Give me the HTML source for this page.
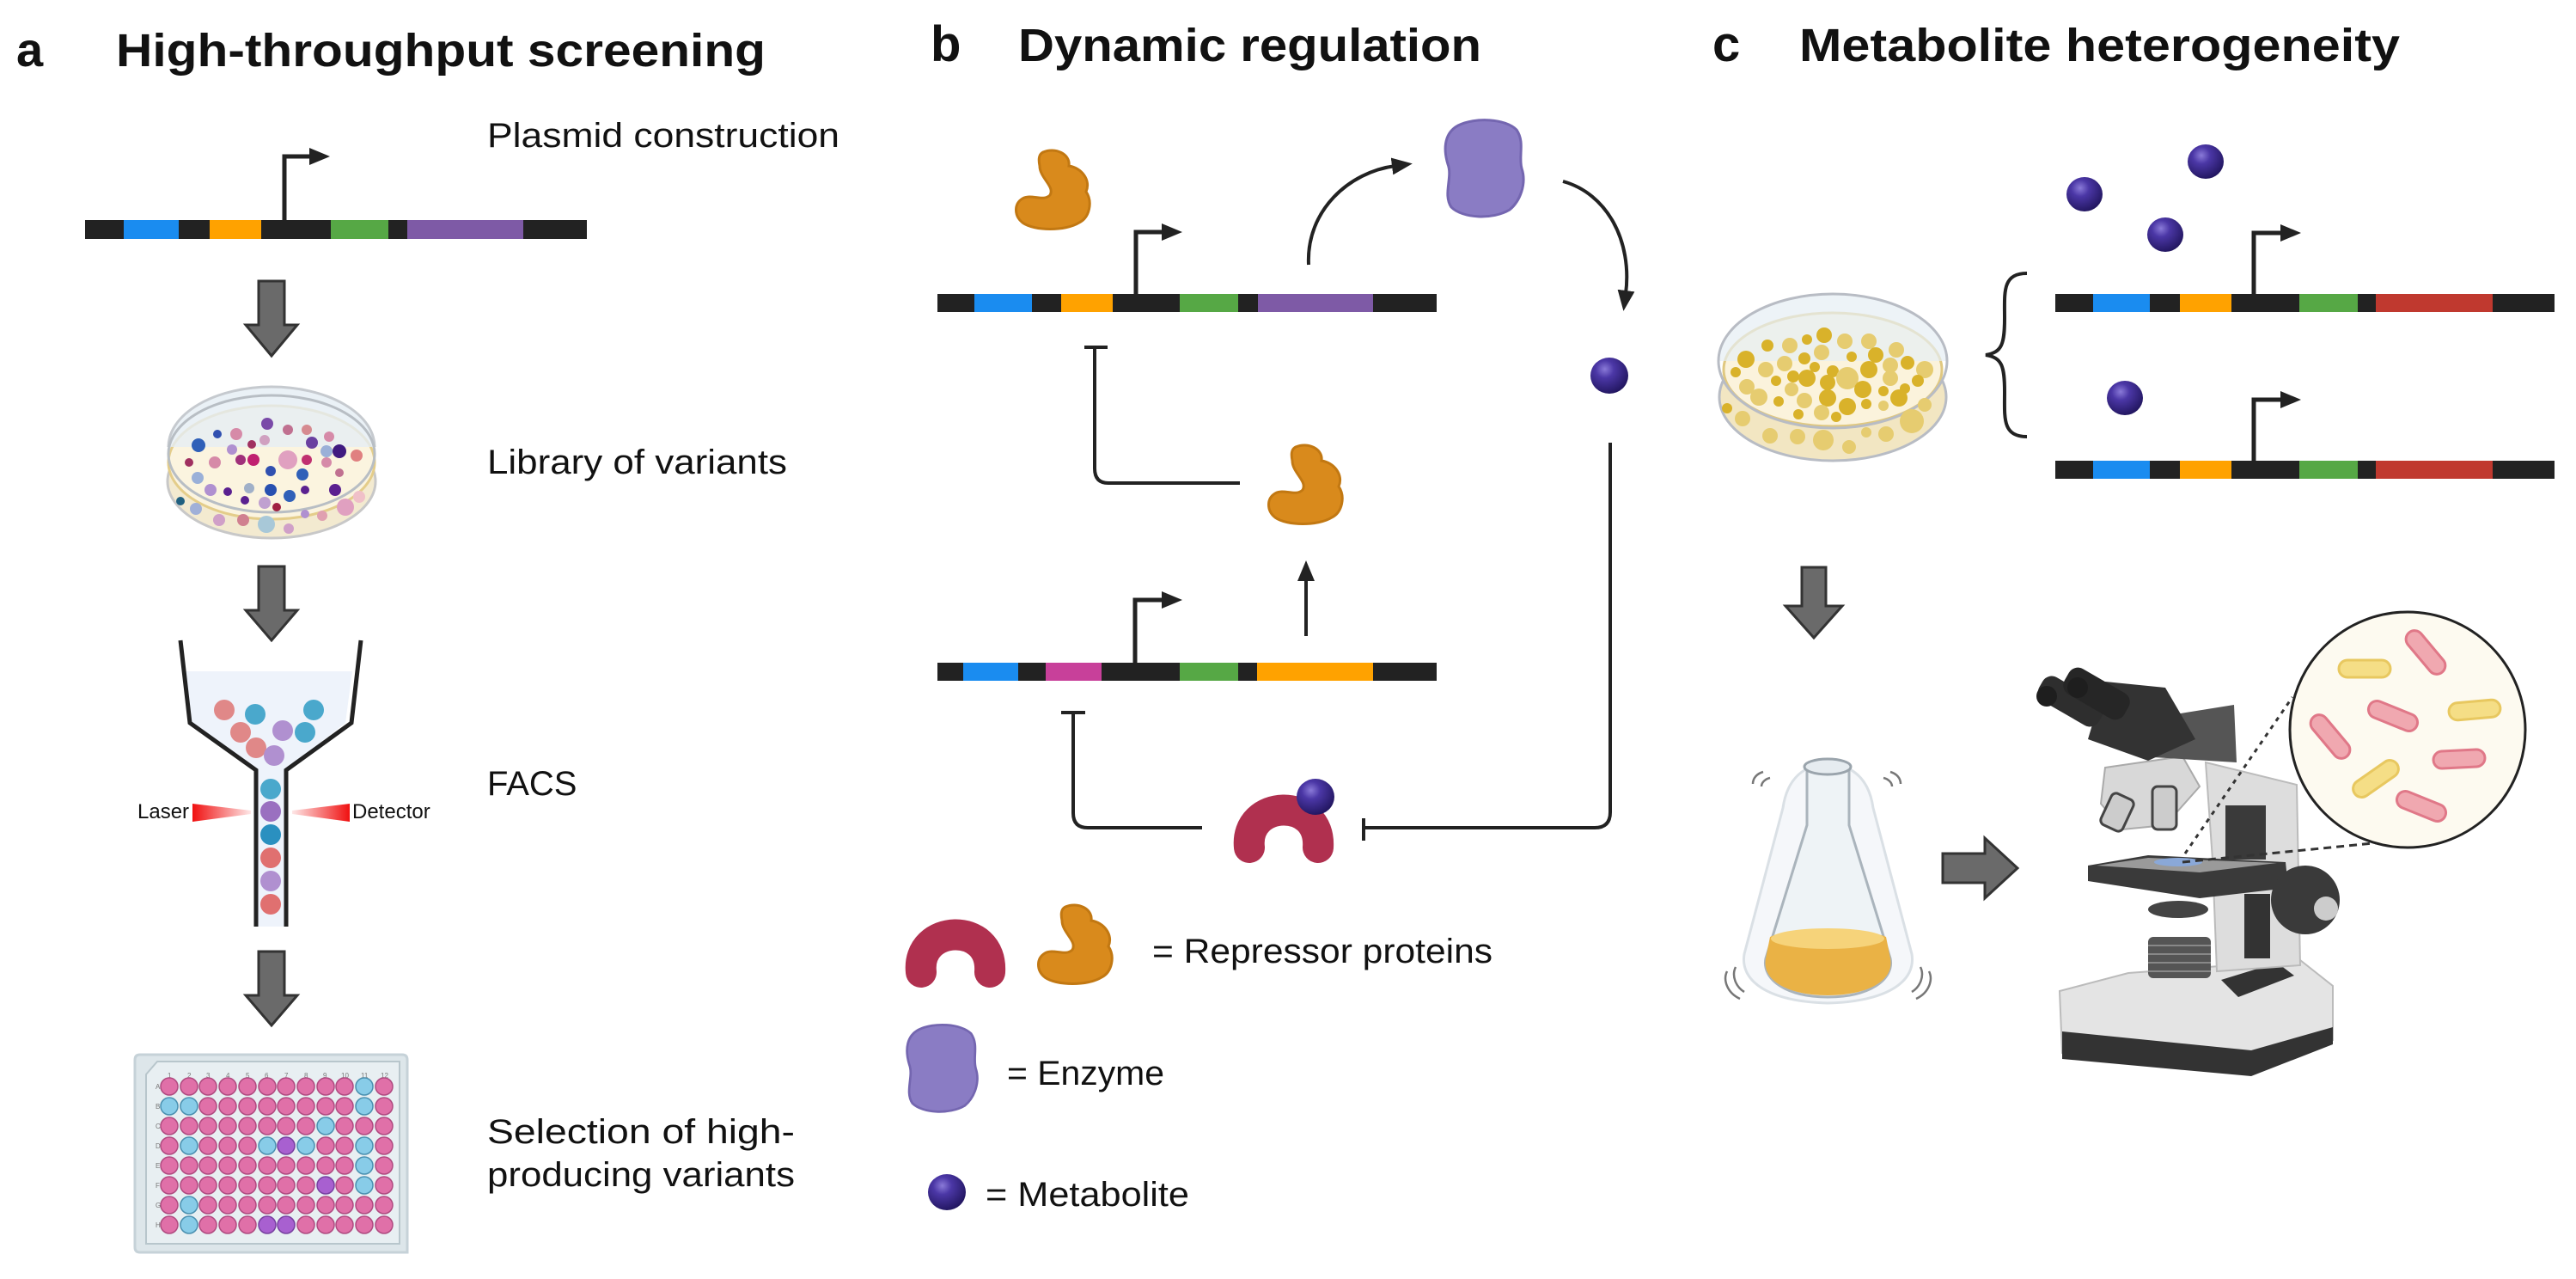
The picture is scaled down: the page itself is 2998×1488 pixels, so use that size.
<!DOCTYPE html>
<html><head><meta charset="utf-8"><style>html,body{margin:0;padding:0;background:#fff}svg{display:block}</style></head>
<body>
<svg width="2998" height="1488" viewBox="0 0 2998 1488" xmlns="http://www.w3.org/2000/svg" font-family="Liberation Sans, sans-serif">
<defs>
<radialGradient id="ball" cx="0.38" cy="0.32" r="0.7"><stop offset="0" stop-color="#8a7ad8"/><stop offset="0.35" stop-color="#4b37a6"/><stop offset="1" stop-color="#221660"/></radialGradient>
<marker id="ah" markerWidth="24" markerHeight="20" refX="4" refY="10" orient="auto" markerUnits="userSpaceOnUse" viewBox="0 0 24 20"><path d="M0,0 L24,10 L0,20 Z" fill="#222"/></marker>
<g id="orange"><path d="M-12,-46 C2,-52 20,-44 18,-30 C32,-28 44,-14 38,0 C46,12 42,30 30,36 C14,46 -22,46 -36,36 C-46,28 -46,14 -36,8 C-26,2 -12,12 -4,4 C2,-6 -16,-16 -16,-30 C-18,-40 -16,-44 -12,-46 Z" fill="#d98a1c" stroke="#c27812" stroke-width="3"/></g>
<g id="enz"><path d="M-30,-50 C-10,-60 25,-58 38,-45 C48,-30 40,-15 44,0 C50,18 42,38 30,48 C10,60 -25,58 -38,45 C-48,30 -36,10 -42,-5 C-48,-25 -45,-42 -30,-50 Z" fill="#8a7cc4" stroke="#7466b0" stroke-width="3"/></g>
<g id="red"><path d="M-40,28 C-46,-28 44,-32 40,28" fill="none" stroke="#b0304f" stroke-width="36" stroke-linecap="round"/></g>
<linearGradient id="lz" x1="0" x2="1"><stop offset="0" stop-color="#f01010"/><stop offset="1" stop-color="#f01010" stop-opacity="0.1"/></linearGradient><linearGradient id="lz2" x1="1" x2="0"><stop offset="0" stop-color="#f01010"/><stop offset="1" stop-color="#f01010" stop-opacity="0.1"/></linearGradient>
</defs>

<!-- Titles -->
<text x="19" y="77" font-size="56" font-weight="bold" fill="#111">a</text>
<text x="135" y="77" font-size="54" font-weight="bold" fill="#111" textLength="756" lengthAdjust="spacingAndGlyphs">High-throughput screening</text>
<text x="1083" y="71" font-size="58" font-weight="bold" fill="#111">b</text>
<text x="1185" y="71" font-size="54" font-weight="bold" fill="#111" textLength="539" lengthAdjust="spacingAndGlyphs">Dynamic regulation</text>
<text x="1993" y="71" font-size="58" font-weight="bold" fill="#111">c</text>
<text x="2094" y="71" font-size="54" font-weight="bold" fill="#111" textLength="699" lengthAdjust="spacingAndGlyphs">Metabolite heterogeneity</text>

<!-- Panel a -->
<text x="567" y="171" font-size="40" fill="#111" textLength="410" lengthAdjust="spacingAndGlyphs">Plasmid construction</text>
<g>
<rect x="99" y="256" width="584" height="22" fill="#222"/>
<rect x="144" y="256" width="64" height="22" fill="#1a8cf0"/>
<rect x="244" y="256" width="60" height="22" fill="#ffa200"/>
<rect x="385" y="256" width="67" height="22" fill="#56a845"/>
<rect x="474" y="256" width="135" height="22" fill="#7e5aa6"/>
<path d="M331,256 V182 H364" fill="none" stroke="#222" stroke-width="5" marker-end="url(#ah)"/>
</g>
<g fill="#6a6a6a" stroke="#333" stroke-width="3">
<path d="M301,327 H331 V378 H346 L316,414 L286,378 H301 Z"/>
<path d="M301,659 H331 V710 H346 L316,745 L286,710 H301 Z"/>
<path d="M301,1107 H331 V1158 H346 L316,1193 L286,1158 H301 Z"/>
</g>
<!-- petri a -->
<ellipse cx="316" cy="560" rx="121" ry="66" fill="#f3ead0" stroke="#c8c8c8" stroke-width="3"/>
<ellipse cx="316" cy="538" rx="120" ry="66" fill="#fbf4df" stroke="#e4cd8a" stroke-width="3"/>
<path d="M196,520 A120,70 0 0 1 436,520" fill="#e6eef5" stroke="#b8bec4" stroke-width="3" opacity="0.8"/>
<ellipse cx="316" cy="528" rx="120" ry="68" fill="none" stroke="#b8bec4" stroke-width="3"/>
<g>
<circle cx="311" cy="493" r="7" fill="#7a4aa8"/><circle cx="275" cy="505" r="7" fill="#d68aa8"/><circle cx="253" cy="505" r="5" fill="#3050b0"/><circle cx="335" cy="500" r="6" fill="#c07090"/><circle cx="357" cy="500" r="6" fill="#d68a90"/><circle cx="383" cy="508" r="6" fill="#d68aa8"/><circle cx="293" cy="517" r="5" fill="#a03060"/><circle cx="308" cy="512" r="6" fill="#d0a0c0"/><circle cx="231" cy="518" r="8" fill="#3060b8"/><circle cx="270" cy="523" r="6" fill="#b090d0"/><circle cx="363" cy="515" r="7" fill="#6a40a0"/><circle cx="395" cy="525" r="8" fill="#401a80"/><circle cx="380" cy="525" r="7" fill="#9ab0d8"/><circle cx="220" cy="538" r="5" fill="#a03060"/><circle cx="250" cy="538" r="7" fill="#d68aa8"/><circle cx="280" cy="535" r="6" fill="#a0307a"/><circle cx="295" cy="535" r="7" fill="#c02070"/><circle cx="335" cy="535" r="11" fill="#e0a0c0"/><circle cx="357" cy="535" r="6" fill="#c03070"/><circle cx="380" cy="538" r="6" fill="#d68aa8"/><circle cx="415" cy="530" r="7" fill="#e08080"/><circle cx="315" cy="548" r="6" fill="#3050b0"/><circle cx="352" cy="552" r="7" fill="#3060b8"/><circle cx="395" cy="550" r="5" fill="#c07090"/><circle cx="230" cy="556" r="7" fill="#9ab0d8"/><circle cx="245" cy="570" r="7" fill="#b090d0"/><circle cx="265" cy="572" r="5" fill="#5a2090"/><circle cx="290" cy="568" r="6" fill="#a0b0c8"/><circle cx="315" cy="570" r="7" fill="#2850b0"/><circle cx="337" cy="577" r="7" fill="#3060b8"/><circle cx="355" cy="570" r="5" fill="#5a2090"/><circle cx="390" cy="570" r="7" fill="#5a2090"/><circle cx="418" cy="578" r="7" fill="#f0c0c8"/><circle cx="210" cy="583" r="5" fill="#206080"/><circle cx="285" cy="582" r="5" fill="#5a2090"/><circle cx="308" cy="585" r="7" fill="#c0a0d0"/><circle cx="322" cy="590" r="5" fill="#a02040"/><circle cx="228" cy="592" r="7" fill="#a0b0d8"/><circle cx="402" cy="590" r="10" fill="#e0a0c0"/><circle cx="255" cy="605" r="7" fill="#d0a0c8"/><circle cx="283" cy="605" r="7" fill="#d08090"/><circle cx="310" cy="610" r="10" fill="#a8c8d8"/><circle cx="336" cy="615" r="6" fill="#d0a0c8"/><circle cx="355" cy="598" r="5" fill="#b090d0"/><circle cx="375" cy="600" r="6" fill="#e0a0b0"/>
</g>
<text x="567" y="551" font-size="40" fill="#111" textLength="349" lengthAdjust="spacingAndGlyphs">Library of variants</text>

<!-- FACS -->
<path d="M212,781 H410 L402,841 L332,896 V1078 H299 V896 L222,841 Z" fill="#eef3fb"/>
<path d="M210,745 L221,841 L298,896 V1078 M420,745 L409,841 L333,896 V1078" fill="none" stroke="#222" stroke-width="5"/>
<g>
<circle cx="261" cy="826" r="12" fill="#e08888"/><circle cx="297" cy="831" r="12" fill="#4aa8cc"/><circle cx="365" cy="826" r="12" fill="#4aa8cc"/><circle cx="280" cy="852" r="12" fill="#e08888"/><circle cx="329" cy="850" r="12" fill="#b090d0"/><circle cx="355" cy="852" r="12" fill="#4aa8cc"/><circle cx="298" cy="870" r="12" fill="#e08888"/><circle cx="319" cy="879" r="12" fill="#b090d0"/>
<circle cx="315" cy="918" r="12" fill="#4aa8cc"/><circle cx="315" cy="944" r="12" fill="#9a70c0"/><circle cx="315" cy="971" r="12" fill="#2a90c0"/><circle cx="315" cy="998" r="12" fill="#e07070"/><circle cx="315" cy="1025" r="12" fill="#b090d0"/><circle cx="315" cy="1052" r="12" fill="#e07070"/>
</g>
<path d="M224,935 L292,943 L292,947 L224,956 Z" fill="url(#lz)"/>
<path d="M407,935 L340,943 L340,947 L407,956 Z" fill="url(#lz2)"/>
<text x="160" y="952" font-size="24" fill="#111">Laser</text>
<text x="410" y="952" font-size="24" fill="#111">Detector</text>
<text x="567" y="925" font-size="40" fill="#111">FACS</text>

<!-- 96 well plate -->
<path d="M157,1233 Q157,1227 163,1227 H468 Q474,1227 474,1233 V1457 H163 Q157,1457 157,1451 Z" fill="#dde6ea" stroke="#c6d2d8" stroke-width="3"/>
<path d="M183,1235 H465 V1447 H170 V1250 Z" fill="#e8eff2" stroke="#b8c6cc" stroke-width="2"/>
<g font-size="8" fill="#777">
<text x="195" y="1254">1</text><text x="218" y="1254">2</text><text x="240" y="1254">3</text><text x="263" y="1254">4</text><text x="286" y="1254">5</text><text x="308" y="1254">6</text><text x="331" y="1254">7</text><text x="354" y="1254">8</text><text x="376" y="1254">9</text><text x="397" y="1254">10</text><text x="420" y="1254">11</text><text x="443" y="1254">12</text>
</g>
<text x="567" y="1330" font-size="40" fill="#111" textLength="358" lengthAdjust="spacingAndGlyphs">Selection of high-</text>
<text x="567" y="1380" font-size="40" fill="#111" textLength="358" lengthAdjust="spacingAndGlyphs">producing variants</text>

<!-- Panel b -->
<rect x="1091" y="342" width="581" height="21" fill="#222"/>
<rect x="1134" y="342" width="67" height="21" fill="#1a8cf0"/>
<rect x="1235" y="342" width="60" height="21" fill="#ffa200"/>
<rect x="1373" y="342" width="68" height="21" fill="#56a845"/>
<rect x="1464" y="342" width="134" height="21" fill="#7e5aa6"/>
<path d="M1322,342 V270 H1356" fill="none" stroke="#222" stroke-width="5" marker-end="url(#ah)"/>
<rect x="1091" y="771" width="581" height="21" fill="#222"/>
<rect x="1121" y="771" width="64" height="21" fill="#1a8cf0"/>
<rect x="1217" y="771" width="65" height="21" fill="#c8409a"/>
<rect x="1373" y="771" width="68" height="21" fill="#56a845"/>
<rect x="1463" y="771" width="135" height="21" fill="#ffa200"/>
<path d="M1321,771 V698 H1356" fill="none" stroke="#222" stroke-width="5" marker-end="url(#ah)"/>

<use href="#orange" x="1226" y="223"/>
<use href="#enz" x="1727" y="196"/>
<path d="M1523,308 C1520,245 1570,200 1624,193" fill="none" stroke="#222" stroke-width="4" marker-end="url(#ah)"/>
<path d="M1819,211 C1870,225 1900,280 1892,342" fill="none" stroke="#222" stroke-width="4" marker-end="url(#ah)"/>
<ellipse cx="1873" cy="437" rx="22" ry="21" fill="url(#ball)"/>
<path d="M1262,404 H1289 M1274,404 V545 Q1274,562 1290,562 H1443" fill="none" stroke="#222" stroke-width="4"/>
<use href="#orange" x="1520" y="566"/>
<path d="M1520,740 V672" fill="none" stroke="#222" stroke-width="4" marker-end="url(#ah)"/>
<path d="M1235,829 H1263 M1249,829 V946 Q1249,963 1266,963 H1399" fill="none" stroke="#222" stroke-width="4"/>
<use href="#red" x="1494" y="958"/>
<ellipse cx="1531" cy="927" rx="22" ry="21" fill="url(#ball)"/>
<path d="M1874,515 V945 Q1874,963 1856,963 H1587 M1587,952 V978" fill="none" stroke="#222" stroke-width="4"/>

<use href="#red" x="1112" y="1103"/>
<use href="#orange" x="1252" y="1101"/>
<text x="1341" y="1120" font-size="40" fill="#111" textLength="396" lengthAdjust="spacingAndGlyphs">= Repressor proteins</text>
<g transform="translate(1096 1243) scale(0.9)"><use href="#enz"/></g>
<text x="1172" y="1262" font-size="40" fill="#111" textLength="183" lengthAdjust="spacingAndGlyphs">= Enzyme</text>
<ellipse cx="1102" cy="1387" rx="22" ry="21" fill="url(#ball)"/>
<text x="1147" y="1403" font-size="40" fill="#111" textLength="237" lengthAdjust="spacingAndGlyphs">= Metabolite</text>

<!-- Panel c -->
<ellipse cx="2426" cy="226" rx="21" ry="20" fill="url(#ball)"/>
<ellipse cx="2567" cy="188" rx="21" ry="20" fill="url(#ball)"/>
<ellipse cx="2520" cy="273" rx="21" ry="20" fill="url(#ball)"/>
<ellipse cx="2473" cy="463" rx="21" ry="20" fill="url(#ball)"/>
<g>
<rect x="2392" y="342" width="581" height="21" fill="#222"/>
<rect x="2436" y="342" width="66" height="21" fill="#1a8cf0"/>
<rect x="2537" y="342" width="60" height="21" fill="#ffa200"/>
<rect x="2676" y="342" width="68" height="21" fill="#56a845"/>
<rect x="2765" y="342" width="136" height="21" fill="#c0392f"/>
<path d="M2623,342 V271 H2658" fill="none" stroke="#222" stroke-width="5" marker-end="url(#ah)"/>
</g>
<g>
<rect x="2392" y="536" width="581" height="21" fill="#222"/>
<rect x="2436" y="536" width="66" height="21" fill="#1a8cf0"/>
<rect x="2537" y="536" width="60" height="21" fill="#ffa200"/>
<rect x="2676" y="536" width="68" height="21" fill="#56a845"/>
<rect x="2765" y="536" width="136" height="21" fill="#c0392f"/>
<path d="M2623,536 V465 H2658" fill="none" stroke="#222" stroke-width="5" marker-end="url(#ah)"/>
</g>
<path d="M2359,318 C2330,318 2333,340 2333,370 C2333,400 2330,410 2311,413 C2330,416 2333,426 2333,456 C2333,486 2330,508 2359,508" fill="none" stroke="#222" stroke-width="4"/>

<!-- petri c -->
<ellipse cx="2133" cy="462" rx="132" ry="74" fill="#f2e6c2" stroke="#b8bcc4" stroke-width="3"/>
<ellipse cx="2133" cy="430" rx="127" ry="66" fill="#fbf3dc" stroke="#e0c880" stroke-width="3"/>
<path d="M2001,420 A133,78 0 0 1 2267,420" fill="#e6eef4" opacity="0.7"/>
<ellipse cx="2133" cy="420" rx="133" ry="78" fill="none" stroke="#b8bcc4" stroke-width="3"/>
<g fill="#d9b22a">
<circle cx="2123" cy="390" r="9"/><circle cx="2057" cy="402" r="7"/><circle cx="2103" cy="395" r="6"/><circle cx="2083" cy="402" r="9" fill="#e6cc70"/><circle cx="2147" cy="397" r="9" fill="#e6cc70"/><circle cx="2175" cy="397" r="9" fill="#e6cc70"/><circle cx="2032" cy="418" r="10"/><circle cx="2100" cy="417" r="7"/><circle cx="2120" cy="410" r="9" fill="#e6cc70"/><circle cx="2155" cy="415" r="6"/><circle cx="2183" cy="413" r="9"/><circle cx="2207" cy="407" r="9" fill="#e6cc70"/><circle cx="2020" cy="433" r="6"/><circle cx="2055" cy="430" r="9" fill="#e6cc70"/><circle cx="2077" cy="423" r="9" fill="#e6cc70"/><circle cx="2112" cy="427" r="6"/><circle cx="2133" cy="432" r="7"/><circle cx="2087" cy="438" r="7"/><circle cx="2103" cy="440" r="10"/><circle cx="2150" cy="440" r="13" fill="#e6cc70"/><circle cx="2175" cy="430" r="10"/><circle cx="2200" cy="425" r="9" fill="#e6cc70"/><circle cx="2220" cy="422" r="8"/><circle cx="2240" cy="430" r="10" fill="#e6cc70"/><circle cx="2067" cy="443" r="6"/><circle cx="2033" cy="450" r="9" fill="#e6cc70"/><circle cx="2127" cy="445" r="9"/><circle cx="2200" cy="440" r="9" fill="#e6cc70"/><circle cx="2232" cy="443" r="7"/><circle cx="2168" cy="453" r="10"/><circle cx="2085" cy="453" r="8" fill="#e6cc70"/><circle cx="2192" cy="455" r="6"/><circle cx="2217" cy="452" r="6"/><circle cx="2047" cy="462" r="10" fill="#e6cc70"/><circle cx="2070" cy="467" r="6"/><circle cx="2100" cy="466" r="9" fill="#e6cc70"/><circle cx="2127" cy="463" r="10"/><circle cx="2210" cy="463" r="10"/><circle cx="2010" cy="475" r="6"/><circle cx="2150" cy="473" r="10"/><circle cx="2172" cy="470" r="6"/><circle cx="2192" cy="472" r="6" fill="#e6cc70"/><circle cx="2240" cy="471" r="8" fill="#e6cc70"/><circle cx="2093" cy="482" r="6"/><circle cx="2120" cy="480" r="9" fill="#e6cc70"/><circle cx="2137" cy="485" r="6"/><circle cx="2028" cy="487" r="9" fill="#e6cc70"/><circle cx="2225" cy="490" r="14" fill="#e6cc70"/><circle cx="2060" cy="507" r="9" fill="#e6cc70"/><circle cx="2092" cy="508" r="9" fill="#e6cc70"/><circle cx="2122" cy="512" r="12" fill="#e6cc70"/><circle cx="2152" cy="520" r="8" fill="#e6cc70"/><circle cx="2172" cy="503" r="6" fill="#e6cc70"/><circle cx="2195" cy="505" r="9" fill="#e6cc70"/>
</g>
<path d="M2097,660 H2125 V705 H2144 L2111,742 L2078,705 H2097 Z" fill="#6a6a6a" stroke="#333" stroke-width="3"/>
<path d="M2261,993 H2310 V975 L2348,1010 L2310,1045 V1027 H2261 Z" fill="#6a6a6a" stroke="#333" stroke-width="3"/>

<!-- flask -->
<g>
<path d="M2075,940 C2080,905 2100,890 2127,888 C2155,890 2175,905 2180,940 L2225,1110 C2230,1140 2200,1165 2127,1167 C2055,1165 2025,1140 2030,1110 Z" fill="#f4f7fa" stroke="#d6dde3" stroke-width="3" opacity="0.9"/>
<path d="M2103,892 V960 L2055,1115 C2050,1140 2080,1160 2127,1160 C2175,1160 2205,1140 2200,1115 L2152,960 V892" fill="#eef3f6" stroke="#aab4bc" stroke-width="3"/>
<path d="M2060,1090 C2080,1080 2175,1080 2195,1090 L2200,1115 C2205,1140 2175,1158 2127,1158 C2080,1158 2050,1140 2055,1115 Z" fill="#eab245"/>
<ellipse cx="2127" cy="1092" rx="66" ry="12" fill="#f6d37a"/>
<ellipse cx="2127" cy="892" rx="27" ry="9" fill="#e6ecf0" stroke="#9aa4ac" stroke-width="3"/>
<g fill="none" stroke="#777" stroke-width="2.5">
<path d="M2052,898 C2045,900 2040,905 2040,912"/><path d="M2060,905 C2055,906 2050,910 2050,915"/>
<path d="M2200,898 C2207,900 2212,905 2212,912"/><path d="M2192,905 C2197,906 2202,910 2202,915"/>
<path d="M2010,1130 C2005,1140 2010,1155 2025,1162"/><path d="M2020,1125 C2015,1135 2020,1148 2030,1154"/>
<path d="M2245,1130 C2250,1140 2245,1155 2230,1162"/><path d="M2235,1125 C2240,1135 2235,1148 2225,1154"/>
</g>
</g>

<!-- microscope -->
<g>
<path d="M2397,1153 L2477,1132 L2677,1117 L2715,1147 L2715,1210 L2620,1245 L2400,1225 Z" fill="#e4e4e4" stroke="#bbb" stroke-width="2"/>
<path d="M2400,1200 L2620,1222 L2715,1195 L2715,1215 L2620,1252 L2400,1232 Z" fill="#333"/>
<path d="M2585,1140 L2650,1120 L2670,1135 L2605,1160 Z" fill="#333"/>
<path d="M2567,887 L2673,913 L2677,1123 L2580,1130 L2575,1000 Z" fill="#ddd" stroke="#bbb" stroke-width="2"/>
<rect x="2590" y="937" width="47" height="63" fill="#3a3a3a"/>
<path d="M2430,1007 L2500,995 L2660,1003 L2663,1033 L2560,1045 L2430,1025 Z" fill="#3a3a3a"/>
<path d="M2440,1007 L2500,998 L2650,1004 L2560,1015 Z" fill="#9a9a9a"/>
<ellipse cx="2535" cy="1003" rx="28" ry="5" fill="#8aa8d8"/>
<ellipse cx="2535" cy="1058" rx="35" ry="10" fill="#444"/>
<rect x="2500" y="1090" width="73" height="48" rx="6" fill="#555"/>
<g stroke="#888" stroke-width="2"><line x1="2500" y1="1100" x2="2573" y2="1100"/><line x1="2500" y1="1110" x2="2573" y2="1110"/><line x1="2500" y1="1120" x2="2573" y2="1120"/><line x1="2500" y1="1130" x2="2573" y2="1130"/></g>
<rect x="2612" y="1040" width="30" height="75" fill="#333"/>
<circle cx="2683" cy="1047" r="40" fill="#3a3a3a"/>
<circle cx="2707" cy="1057" r="14" fill="#ccc"/>
<path d="M2450,893 L2540,880 L2560,915 L2520,960 L2470,965 L2445,935 Z" fill="#d8d8d8" stroke="#aaa" stroke-width="2"/>
<rect x="2450" y="925" width="28" height="40" rx="6" fill="#ccc" stroke="#444" stroke-width="3" transform="rotate(25 2464 945)"/>
<rect x="2505" y="915" width="28" height="50" rx="6" fill="#ccc" stroke="#444" stroke-width="3"/>
<path d="M2475,840 L2600,820 L2603,887 L2490,880 Z" fill="#555"/>
<path d="M2450,793 L2520,800 L2555,860 L2500,885 L2430,860 Z" fill="#333"/>
<rect x="2370" y="800" width="80" height="32" rx="12" fill="#2e2e2e" transform="rotate(30 2410 816)"/>
<rect x="2400" y="790" width="80" height="34" rx="12" fill="#262626" transform="rotate(30 2440 807)"/>
<circle cx="2382" cy="810" r="12" fill="#1e1e1e"/><circle cx="2418" cy="800" r="12" fill="#1e1e1e"/>
<path d="M2543,993 L2668,811" stroke="#333" stroke-width="3" stroke-dasharray="5,6"/>
<path d="M2540,1003 L2772,980" stroke="#333" stroke-width="3" stroke-dasharray="9,6"/>
</g>
<circle cx="2802" cy="849" r="137" fill="#fdfaf0" stroke="#222" stroke-width="3"/>
<g stroke-width="3">
<rect x="2722" y="768" width="60" height="20" rx="10" fill="#f5de86" stroke="#e8c860"/>
<rect x="2793" y="749" width="60" height="20" rx="10" fill="#f0a8b0" stroke="#e07888" transform="rotate(50 2823 759)"/>
<rect x="2850" y="816" width="60" height="20" rx="10" fill="#f5de86" stroke="#e8c860" transform="rotate(-5 2880 826)"/>
<rect x="2755" y="823" width="60" height="20" rx="10" fill="#f0a8b0" stroke="#e07888" transform="rotate(22 2785 833)"/>
<rect x="2682" y="847" width="60" height="20" rx="10" fill="#f0a8b0" stroke="#e07888" transform="rotate(50 2712 857)"/>
<rect x="2832" y="873" width="60" height="20" rx="10" fill="#f0a8b0" stroke="#e07888" transform="rotate(-3 2862 883)"/>
<rect x="2735" y="896" width="60" height="20" rx="10" fill="#f5de86" stroke="#e8c860" transform="rotate(-35 2765 906)"/>
<rect x="2788" y="928" width="60" height="20" rx="10" fill="#f0a8b0" stroke="#e07888" transform="rotate(22 2818 938)"/>
</g>

<!-- wells -->
<g stroke="#b04a80" stroke-width="1.5">
<g fill="#e070a8">
<circle cx="197" cy="1264" r="10"/><circle cx="220" cy="1264" r="10"/><circle cx="242" cy="1264" r="10"/><circle cx="265" cy="1264" r="10"/><circle cx="288" cy="1264" r="10"/><circle cx="311" cy="1264" r="10"/><circle cx="333" cy="1264" r="10"/><circle cx="356" cy="1264" r="10"/><circle cx="379" cy="1264" r="10"/><circle cx="401" cy="1264" r="10"/><circle cx="447" cy="1264" r="10"/>
<circle cx="242" cy="1287" r="10"/><circle cx="265" cy="1287" r="10"/><circle cx="288" cy="1287" r="10"/><circle cx="311" cy="1287" r="10"/><circle cx="333" cy="1287" r="10"/><circle cx="356" cy="1287" r="10"/><circle cx="379" cy="1287" r="10"/><circle cx="401" cy="1287" r="10"/><circle cx="447" cy="1287" r="10"/>
<circle cx="197" cy="1310" r="10"/><circle cx="220" cy="1310" r="10"/><circle cx="242" cy="1310" r="10"/><circle cx="265" cy="1310" r="10"/><circle cx="288" cy="1310" r="10"/><circle cx="311" cy="1310" r="10"/><circle cx="333" cy="1310" r="10"/><circle cx="356" cy="1310" r="10"/><circle cx="401" cy="1310" r="10"/><circle cx="424" cy="1310" r="10"/><circle cx="447" cy="1310" r="10"/>
<circle cx="197" cy="1333" r="10"/><circle cx="242" cy="1333" r="10"/><circle cx="265" cy="1333" r="10"/><circle cx="288" cy="1333" r="10"/><circle cx="379" cy="1333" r="10"/><circle cx="401" cy="1333" r="10"/><circle cx="447" cy="1333" r="10"/>
<circle cx="197" cy="1356" r="10"/><circle cx="220" cy="1356" r="10"/><circle cx="242" cy="1356" r="10"/><circle cx="265" cy="1356" r="10"/><circle cx="288" cy="1356" r="10"/><circle cx="311" cy="1356" r="10"/><circle cx="333" cy="1356" r="10"/><circle cx="356" cy="1356" r="10"/><circle cx="379" cy="1356" r="10"/><circle cx="401" cy="1356" r="10"/><circle cx="447" cy="1356" r="10"/>
<circle cx="197" cy="1379" r="10"/><circle cx="220" cy="1379" r="10"/><circle cx="242" cy="1379" r="10"/><circle cx="265" cy="1379" r="10"/><circle cx="288" cy="1379" r="10"/><circle cx="311" cy="1379" r="10"/><circle cx="333" cy="1379" r="10"/><circle cx="356" cy="1379" r="10"/><circle cx="401" cy="1379" r="10"/><circle cx="447" cy="1379" r="10"/>
<circle cx="197" cy="1402" r="10"/><circle cx="242" cy="1402" r="10"/><circle cx="265" cy="1402" r="10"/><circle cx="288" cy="1402" r="10"/><circle cx="311" cy="1402" r="10"/><circle cx="333" cy="1402" r="10"/><circle cx="356" cy="1402" r="10"/><circle cx="379" cy="1402" r="10"/><circle cx="401" cy="1402" r="10"/><circle cx="424" cy="1402" r="10"/><circle cx="447" cy="1402" r="10"/>
<circle cx="197" cy="1425" r="10"/><circle cx="242" cy="1425" r="10"/><circle cx="265" cy="1425" r="10"/><circle cx="288" cy="1425" r="10"/><circle cx="356" cy="1425" r="10"/><circle cx="379" cy="1425" r="10"/><circle cx="401" cy="1425" r="10"/><circle cx="424" cy="1425" r="10"/><circle cx="447" cy="1425" r="10"/>
</g>
<g fill="#88cce8" stroke="#4a90b0">
<circle cx="424" cy="1264" r="10"/><circle cx="197" cy="1287" r="10"/><circle cx="220" cy="1287" r="10"/><circle cx="424" cy="1287" r="10"/><circle cx="379" cy="1310" r="10"/><circle cx="220" cy="1333" r="10"/><circle cx="311" cy="1333" r="10"/><circle cx="356" cy="1333" r="10"/><circle cx="424" cy="1333" r="10"/><circle cx="424" cy="1356" r="10"/><circle cx="424" cy="1379" r="10"/><circle cx="220" cy="1402" r="10"/><circle cx="220" cy="1425" r="10"/>
</g>
<g fill="#a860d0" stroke="#7840a0">
<circle cx="333" cy="1333" r="10"/><circle cx="379" cy="1379" r="10"/><circle cx="311" cy="1425" r="10"/><circle cx="333" cy="1425" r="10"/>
</g>
</g>
<g font-size="8" fill="#777"><text x="181" y="1267">A</text><text x="181" y="1290">B</text><text x="181" y="1313">C</text><text x="181" y="1336">D</text><text x="181" y="1359">E</text><text x="181" y="1382">F</text><text x="181" y="1405">G</text><text x="181" y="1428">H</text></g>
</svg>
</body></html>
